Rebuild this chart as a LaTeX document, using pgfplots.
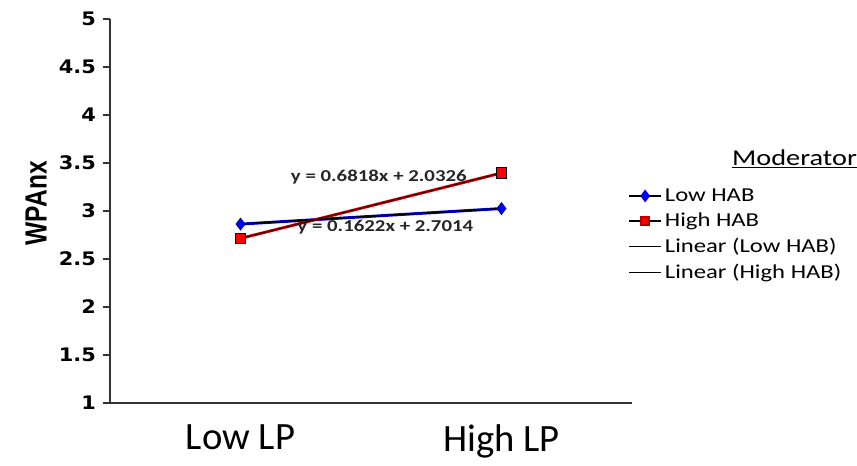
\documentclass[border=0pt]{standalone}
\usepackage{pgfplots}
\pgfplotsset{compat=1.18}
\usepackage{fontspec}
\setmainfont{Carlito}
\newfontfamily\widefont[FakeStretch=1.25]{Carlito}
\newfontfamily\tickfont[FakeStretch=1.12]{DejaVu Sans}
\newfontfamily\titlefont{Liberation Sans}
\begin{document}
\begin{tikzpicture}
\useasboundingbox (0pt,0pt) rectangle (642.75pt,-348.75pt);
\begin{axis}[
  at={(82.5pt,-302.25pt)}, anchor=south west,
  scale only axis, width=391.5pt, height=288pt,
  xmin=-0.5, xmax=1.5, ymin=1, ymax=5,
  axis lines=left, axis line style={-, black!80, line width=0.8pt},
  xtick={0,1}, xticklabels={Low LP, High LP},
  x tick label style={font=\fontsize{29}{31}\selectfont, yshift=-8pt},
  major x tick style={draw=none},
  extra x ticks={-0.5,0.5,1.5}, extra x tick labels={},
  extra x tick style={major tick length=5pt, tick style={black!80, line width=0.8pt}},
  ytick={1,1.5,...,5},
  yticklabels={1,1.5,2,2.5,3,3.5,4,4.5,5},
  y tick label style={font=\tickfont\bfseries\fontsize{14}{16}\selectfont, xshift=-2pt},
  tick align=outside, major tick length=5pt,
  tick style={black!80, line width=0.8pt},
  clip=false,
  legend style={draw=none, fill=none, at={(0.992,0.566)}, anchor=north west,
    font=\widefont\fontsize{14.8}{16}\selectfont, row sep=3.2pt, inner sep=0pt,
    /tikz/every even column/.append style={column sep=0pt}},
  legend cell align=left,
  legend image code/.code={\draw[#1] plot coordinates {(0pt,0pt) (12pt,0pt) (24pt,0pt)};},
]
\addplot[blue, line width=2.2pt, mark=diamond*, mark size=4.5pt,
  mark options={fill=blue, draw=blue!60!black, line width=0.5pt}, forget plot]
  coordinates {(0,2.8636) (1,3.0258)};
\addplot[red, line width=2.2pt, mark=square*, mark size=4pt,
  mark options={fill=red, draw=black, line width=0.6pt}, forget plot]
  coordinates {(0,2.7144) (1,3.3962)};
\addplot[black, line width=1.2pt, forget plot] coordinates {(0,2.8636) (1,3.0258)};
\addplot[black!70!red, line width=1.2pt, forget plot] coordinates {(0,2.7144) (1,3.3962)};
% legend entries
\addlegendimage{black, line width=1.6pt, mark=diamond*, mark size=3.5pt, mark repeat=2, mark phase=2, mark options={fill=blue, draw=blue}}
\addlegendentry{Low HAB}
\addlegendimage{black, line width=1.6pt, mark=square*, mark size=3pt, mark repeat=2, mark phase=2, mark options={fill=red, draw=red!70!black}}
\addlegendentry{High HAB}
\addlegendimage{black, line width=0.6pt}
\addlegendentry{Linear (Low HAB)}
\addlegendimage{black, line width=0.6pt}
\addlegendentry{Linear (High HAB)}
\node[font=\widefont\fontsize{12.5}{14}\selectfont\bfseries, black!85] at (axis cs:0.53,3.35) {y = 0.6818x + 2.0326};
\node[font=\widefont\fontsize{12.5}{14}\selectfont\bfseries, black!85] at (axis cs:0.555,2.83) {y = 0.1622x + 2.7014};
\node[font=\widefont\fontsize{17}{20}\selectfont, anchor=east] at (axis cs:2.38,3.54) {\underline{Moderator}};
\node[rotate=90, font=\titlefont\bfseries\fontsize{23}{26}\selectfont] at ([xshift=-55.5pt]rel axis cs:0,0.52) {\scalebox{0.8}[1]{WPAnx}};
\end{axis}
\end{tikzpicture}
\end{document}
